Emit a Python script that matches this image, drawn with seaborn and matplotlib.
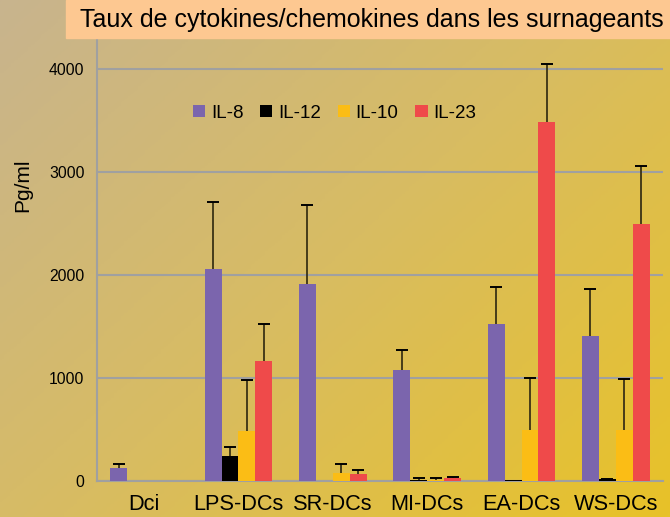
import numpy as np
import pandas as pd
import seaborn as sns
import matplotlib.pyplot as plt
from matplotlib.patches import Rectangle
from matplotlib.colors import LinearSegmentedColormap

groups = ["Dci", "LPS-DCs", "SR-DCs", "MI-DCs", "EA-DCs", "WS-DCs"]
cytokines = ["IL-8", "IL-12", "IL-10", "IL-23"]

il8 = [125, 2055, 1915, 1075, 1527, 1410]
il12 = [0, 242, 0, 5, 10, 15]
il10 = [0, 485, 75, 10, 495, 495]
il23 = [0, 1165, 68, 25, 3485, 2498]

il8_err = [40, 657, 765, 200, 358, 455]
il12_err = [0, 88, 0, 20, 0, 5]
il10_err = [0, 500, 90, 20, 500, 493]
il23_err = [0, 355, 40, 15, 562, 558]

colors = ["#7b65ad", "#000000", "#fbbd15", "#ef4a4a"]

values = [il8, il12, il10, il23]
errors = [il8_err, il12_err, il10_err, il23_err]
df = pd.DataFrame({
    "group": np.tile(groups, len(cytokines)),
    "cytokine": np.repeat(cytokines, len(groups)),
    "value": np.concatenate(values),
    "err": np.concatenate(errors),
})

sns.set_style("white")
plt.rcParams["font.family"] = ["Liberation Sans", "DejaVu Sans"]
plt.rcParams["text.color"] = "black"
plt.rcParams["axes.labelcolor"] = "black"
plt.rcParams["xtick.labelcolor"] = "black"
plt.rcParams["ytick.labelcolor"] = "black"

fig = plt.figure(figsize=(6.7, 5.17), dpi=100)

# gradient background
bg = fig.add_axes([0, 0, 1, 1], zorder=-10)
cmap = LinearSegmentedColormap.from_list("bg", ["#c8b48e", "#d8bc62", "#e8c228"])
xx, yy = np.meshgrid(np.linspace(0, 1, 200), np.linspace(0, 1, 200))
bg.imshow(0.55 * xx + 0.45 * yy, cmap=cmap, aspect="auto", extent=[0, 1, 0, 1], origin="upper")
bg.axis("off")

# title box
fig.patches.append(Rectangle((66 / 670, 1 - 38 / 517), 1, 38 / 517,
                             transform=fig.transFigure, color="#fdc891", zorder=5))
fig.text(80 / 670, 1 - 20 / 517, "Taux de cytokines/chemokines dans les surnageants",
         fontsize=18, va="center", ha="left", zorder=6)

ax = fig.add_axes([97 / 670, 1 - 481 / 517, 566 / 670, 443 / 517])
ax.patch.set_alpha(0)

sns.barplot(data=df, x="group", y="value", hue="cytokine", order=groups,
            hue_order=cytokines, palette=colors, width=0.72, gap=0,
            errorbar=None, ax=ax, saturation=1, edgecolor="none", zorder=3)

# upper-only error bars from the drawn bars
for cont, err in zip(ax.containers, errors):
    xs = np.array([p.get_x() + p.get_width() / 2 for p in cont])
    hs = np.array([p.get_height() for p in cont])
    err = np.array(err)
    keep = err > 0
    ax.vlines(xs[keep], hs[keep], hs[keep] + err[keep], color="#3a3215",
              linewidth=1.3, zorder=4)
    ax.plot(xs[keep], hs[keep] + err[keep], ls="none", marker="_", ms=8.5,
            mew=1.4, color="black", zorder=4)

ax.set_ylim(0, 4300)
ax.set_xlim(-0.5, 5.5)
ax.set_yticks([0, 1000, 2000, 3000, 4000])
ax.yaxis.grid(True, color="#a0a0a0", linewidth=1.5, zorder=0)
ax.set_axisbelow(True)

ax.set_xticks(np.arange(-0.5, 6, 1), minor=False)
ax.set_xticks(range(6), minor=True)
ax.set_xticklabels([])
ax.set_xticklabels(groups, minor=True, fontsize=15.7)
ax.tick_params(axis="x", which="major", length=6, width=1.5, color="#a0a0a0", direction="out")
ax.tick_params(axis="x", which="minor", length=0, pad=9)
ax.tick_params(axis="y", length=5, width=1.5, color="#a0a0a0", labelsize=11.3, pad=4)

for s in ["top", "right"]:
    ax.spines[s].set_visible(False)
for s in ["left", "bottom"]:
    ax.spines[s].set_color("#a0a0a0")
    ax.spines[s].set_linewidth(1.5)

ax.set_xlabel("")
ax.set_ylabel("Pg/ml", fontsize=15)
ax.yaxis.set_label_coords(-0.114, 0.668)

ax.legend(loc="center left", bbox_to_anchor=(0.14, 0.83), ncol=4, frameon=False,
          fontsize=13.5, handlelength=0.65, handleheight=0.65, handletextpad=0.3,
          columnspacing=0.9)

plt.savefig("out.png", dpi=100)
plt.close()
